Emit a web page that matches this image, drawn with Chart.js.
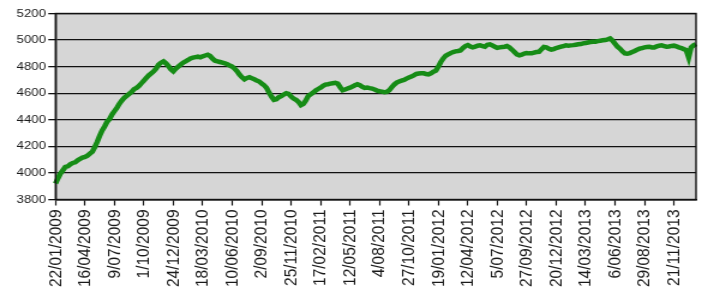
<!DOCTYPE html>
<html>
<head>
<meta charset="utf-8">
<script src="https://cdn.jsdelivr.net/npm/chart.js@4"></script>
<style>
    body { margin: 0; background: #fff; overflow: hidden; }
    /* la imagen original esta estirada en horizontal */
    #myChart { display: block; transform: scaleX(1.2); transform-origin: 0 0; }
</style>
</head>
<body>
<canvas id="myChart" width="585" height="297"></canvas>
<script>
// Valores semanales (jueves), por año
const valores2009 = [3920, 3960, 3995, 4020, 4045, 4050, 4065, 4075, 4080, 4095,
    4105, 4115, 4120, 4130, 4145, 4160, 4195, 4235, 4280, 4320,
    4350, 4385, 4405, 4440, 4465, 4490, 4520, 4545, 4565, 4580,
    4595, 4610, 4630, 4640, 4655, 4675, 4695, 4715, 4735, 4750,
    4765, 4785, 4815, 4830, 4840, 4825, 4805, 4780, 4765, 4785];
const valores2010 = [4800, 4815, 4830, 4840, 4850, 4862, 4868, 4872, 4875, 4870,
    4878, 4884, 4890, 4880, 4860, 4845, 4840, 4835, 4830, 4825,
    4818, 4808, 4800, 4785, 4765, 4740, 4720, 4705, 4715, 4720,
    4712, 4705, 4695, 4688, 4672, 4660, 4640, 4605, 4575, 4550,
    4555, 4570, 4578, 4590, 4600, 4595, 4575, 4560, 4550, 4535,
    4510, 4520];
const valores2011 = [4545, 4580, 4592, 4605, 4620, 4632, 4642, 4655, 4665, 4668,
    4672, 4675, 4678, 4672, 4645, 4622, 4628, 4635, 4642, 4650,
    4660, 4668, 4660, 4648, 4640, 4642, 4638, 4635, 4628, 4620,
    4615, 4612, 4608, 4610, 4622, 4645, 4665, 4680, 4688, 4695,
    4700, 4710, 4718, 4725, 4735, 4745, 4748, 4750, 4750, 4745,
    4742, 4750];
const valores2012 = [4762, 4770, 4800, 4835, 4862, 4882, 4892, 4902, 4910, 4915,
    4918, 4922, 4940, 4955, 4962, 4952, 4945, 4950, 4958, 4960,
    4955, 4950, 4965, 4968, 4960, 4950, 4942, 4945, 4948, 4950,
    4955, 4945, 4928, 4910, 4892, 4885, 4890, 4898, 4902, 4900,
    4900, 4905, 4910, 4912, 4930, 4948, 4945, 4935, 4928, 4932,
    4940, 4945];
const valores2013 = [4950, 4955, 4960, 4958, 4960, 4962, 4965, 4968, 4970, 4975,
    4978, 4982, 4985, 4987, 4988, 4992, 4995, 4998, 5000, 5005,
    5012, 4995, 4972, 4950, 4935, 4915, 4900, 4897, 4902, 4910,
    4918, 4928, 4935, 4940, 4945, 4948, 4950, 4945, 4945, 4952,
    4958, 4960, 4955, 4950, 4952, 4956, 4958, 4952, 4945, 4940,
    4932, 4925];
const valores2014 = [4870, 4945, 4960, 4970];

const valores = [].concat(valores2009, valores2010, valores2011, valores2012, valores2013, valores2014);

// Etiquetas: una fecha por semana desde el 22/01/2009, se muestra una de cada 12
const fechaInicio = new Date(2009, 0, 22);
const fechas = valores.map((v, i) => {
    const d = new Date(fechaInicio.getFullYear(), fechaInicio.getMonth(), fechaInicio.getDate() + 7 * i);
    return d.getDate() + '/' + String(d.getMonth() + 1).padStart(2, '0') + '/' + d.getFullYear();
});
const pasoEtiquetas = 12;

// Fondo gris y marco del area de trazado
const marcoGrafico = {
    id: 'marcoGrafico',
    beforeDraw(chart) {
        const { ctx, chartArea: a } = chart;
        ctx.save();
        ctx.fillStyle = '#d6d6d6';
        ctx.fillRect(a.left, a.top, a.right - a.left, a.bottom - a.top);
        ctx.restore();
    },
    afterDraw(chart) {
        const { ctx, chartArea: a } = chart;
        ctx.save();
        ctx.strokeStyle = '#111';
        ctx.lineWidth = 1.4;
        ctx.strokeRect(a.left, a.top, a.right - a.left, a.bottom - a.top);
        ctx.restore();
    }
};

const ctx = document.getElementById('myChart').getContext('2d');
const myChart = new Chart(ctx, {
    type: 'line',
    data: {
        labels: fechas,
        datasets: [{
            data: valores,
            borderColor: '#168c16',
            borderWidth: 4.5,
            pointRadius: 0,
            tension: 0,
            fill: false
        }]
    },
    options: {
        responsive: false,
        animation: false,
        layout: { padding: { top: 13.5, right: 5, left: 0, bottom: 0 } },
        plugins: {
            legend: { display: false },
            tooltip: { enabled: false }
        },
        scales: {
            x: {
                offset: false,
                afterFit: function (scale) {
                    scale.height = 97.5;
                    // sin margen extra por las etiquetas giradas
                    scale.paddingLeft = 0;
                    scale.paddingRight = 0;
                },
                grid: {
                    drawOnChartArea: false,
                    drawTicks: true,
                    tickLength: 6,
                    tickWidth: 1.2,
                    tickColor: function (c) { return c.index % pasoEtiquetas === 0 ? '#111' : 'rgba(0,0,0,0)'; }
                },
                border: { color: '#111', width: 1.4 },
                ticks: {
                    autoSkip: false,
                    minRotation: 90,
                    maxRotation: 90,
                    padding: 4,
                    color: '#1a1a1a',
                    font: { family: 'Liberation Sans, Arial, sans-serif', size: 15.5 },
                    callback: function (valor, indice) {
                        return indice % pasoEtiquetas === 0 ? fechas[indice] : '';
                    }
                }
            },
            y: {
                min: 3800,
                max: 5200,
                afterFit: function (scale) { scale.width = 46.25; },
                grid: {
                    color: '#111',
                    lineWidth: 1.3,
                    tickLength: 6,
                    tickColor: '#111'
                },
                border: { color: '#111', width: 1.4 },
                ticks: {
                    stepSize: 200,
                    padding: 2,
                    color: '#1a1a1a',
                    font: { family: 'Liberation Sans, Arial, sans-serif', size: 11 },
                    callback: function (valor) { return String(valor); }
                }
            }
        }
    },
    plugins: [marcoGrafico]
});
</script>
</body>
</html>
